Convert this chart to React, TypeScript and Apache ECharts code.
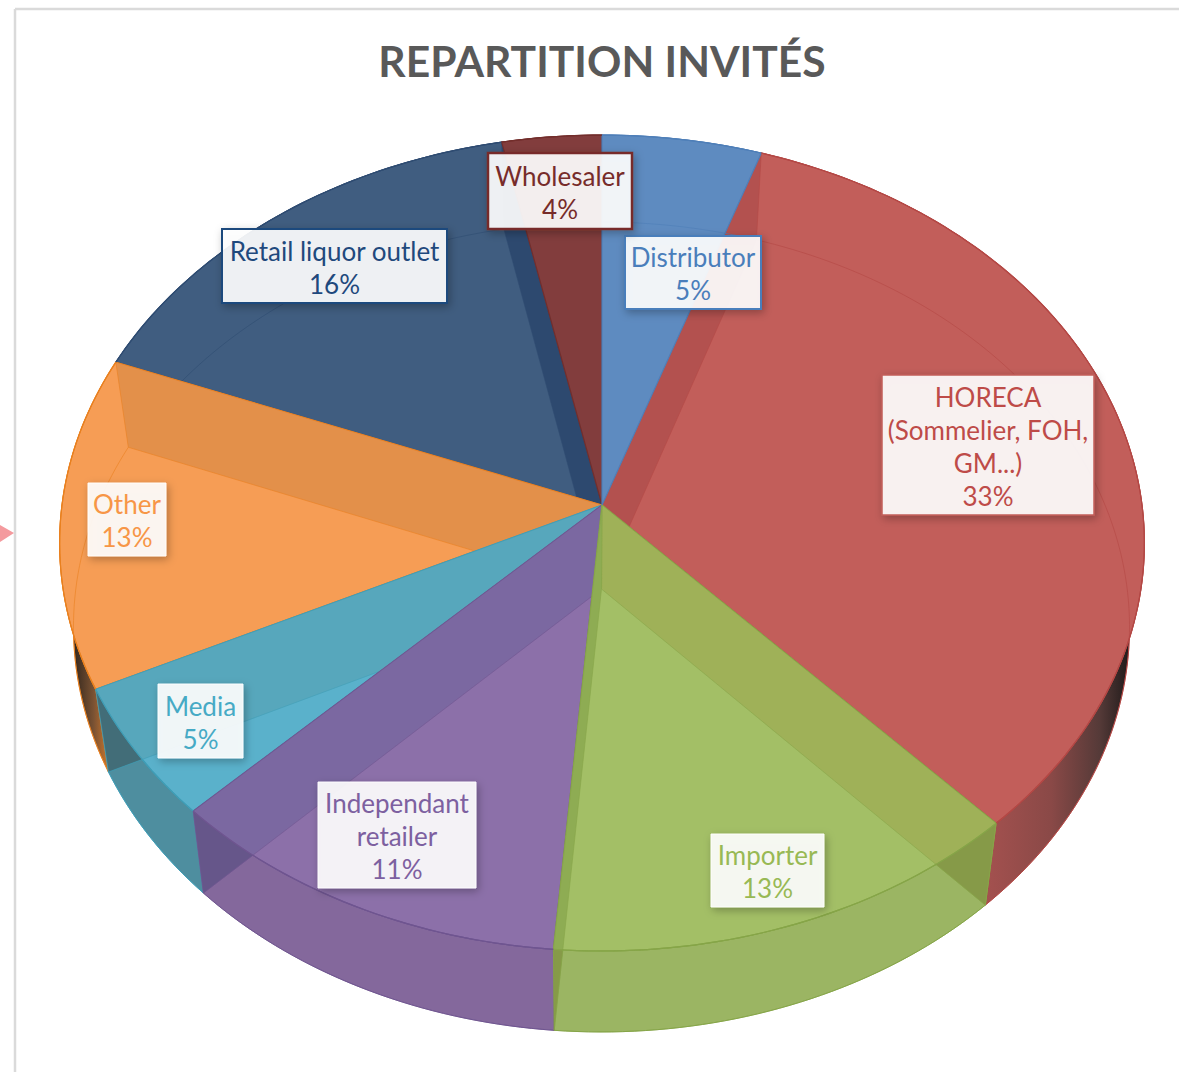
import React, { useEffect, useRef } from "react";
import * as echarts from "echarts";

const titleText = "REPARTITION INVITÉS";
const categories = [
  "Distributor",
  "HORECA\n(Sommelier, FOH,\nGM...)",
  "Importer",
  "Independant\nretailer",
  "Media",
  "Other",
  "Retail liquor outlet",
  "Wholesaler",
];
// Shown percentages (labels)
const shownPercents = [5, 33, 13, 11, 5, 13, 16, 4];
// Slice sizes as estimated from the drawn wedges
const sliceValues = [5.2, 32.9, 13.2, 11.2, 5.3, 13.15, 15.8, 3.25];

// Styles, one per category
const faceColors = ["#5E8BC0", "#C25E5A", "#A3BF66", "#8C70A9", "#5AB1CB", "#F69D55", "#405D80", "#823D3D"];
const edgeColors = ["#4F7FB8", "#B44845", "#86A548", "#6F5590", "#3F9DB6", "#E9801F", "#2F4C72", "#732E2C"];
const startBand = ["", "#B2504F", "#9FB057", "", "", "", "", ""];
const endBand = ["", "", "#8DAB52", "#7A67A0", "#57A6BB", "#E28F4A", "#2C486E", ""];
const outerBand = ["", "", "#869A48", "#66568A", "#426D78", "", "", ""];
const textColors = ["#4A7EBB", "#BE4B48", "#98B954", "#7D60A0", "#46AAC5", "#F79646", "#1F497D", "#772C2A"];
const borderColors = ["#4A7EBB", "#C25E5A", "", "", "", "", "#1F497D", "#772C2A"];
const paintRank = [8, 6, 7, 5, 4, 3, 1, 2];
const labelBoxes = [
  [625, 236, 761, 309],
  [882, 375, 1094, 515],
  [711, 834, 824, 907],
  [318, 782, 476, 888],
  [158, 684, 243, 758],
  [88, 483, 166, 556],
  [222, 229, 447, 303],
  [488, 153, 632, 229],
];
const labelBorders = [2, 1.5, 0, 0, 0, 0, 2, 2.5];

type Plane = { ax: number; ay: number; a: number; b: number; k: number };
const topPlane: Plane = { ax: 602, ay: 505, a: 404.4, b: 540, k: -0.0932 };
const basePlane: Plane = { ax: 601.5, ay: 589, a: 401.4, b: 525.7, k: -0.0938 };

const project = (p: Plane, phi: number): number[] => {
  const u = Math.sin(phi);
  const v = -Math.cos(phi);
  const d = 1 + p.k * v;
  return [p.ax + (p.b * u) / d, p.ay + (p.a * v) / d];
};
const arc = (p: Plane, from: number, to: number): number[][] => {
  const n = Math.max(2, Math.ceil(Math.abs(to - from) / 0.02));
  const out: number[][] = [];
  for (let i = 0; i <= n; i++) out.push(project(p, from + ((to - from) * i) / n));
  return out;
};
const insideTop = (x: number, y: number) =>
  ((x - 602) / 543) ** 2 + ((y - 543) / 408) ** 2 < 1;
const unproject = (p: Plane, x: number, y: number) => {
  const dx = x - p.ax;
  const dy = y - p.ay;
  const v = dy / (p.a - p.k * dy);
  const u = (dx * (1 + p.k * v)) / p.b;
  let phi = Math.atan2(u, -v);
  if (phi < 0) phi += Math.PI * 2;
  return phi;
};

const total = sliceValues.reduce((s, v) => s + v, 0);
const angleStart = (i: number) =>
  (sliceValues.slice(0, i).reduce((s, v) => s + v, 0) / total) * Math.PI * 2;

const wallFill = (i: number): any => {
  if (i === 1)
    return new echarts.graphic.LinearGradient(
      985, 0, 1132, 0,
      [
        { offset: 0, color: "#A4514F" },
        { offset: 0.45, color: "#8A4947" },
        { offset: 0.78, color: "#553A38" },
        { offset: 1, color: "#1C1818" },
      ],
      true
    );
  if (i === 5)
    return new echarts.graphic.LinearGradient(
      72, 0, 108, 0,
      [
        { offset: 0, color: "#2E241C" },
        { offset: 0.6, color: "#7A5233" },
        { offset: 1, color: "#C9742C" },
      ],
      true
    );
  return ["#4F7FB8", "#A4514F", "#9BB563", "#84689C", "#4E8E9F", "#A06A3A", "#334F70", "#6E3332"][i];
};

const renderSlice = (params: any, api: any) => {
  const i = params.dataIndex;
  const span = (api.value(0) / total) * Math.PI * 2;
  const s = angleStart(i);
  const e = s + span;
  const rank = paintRank[i] * 10;
  const children: any[] = [];

  // outer wall, under every top face
  const wallPts = [...arc(topPlane, s, e), ...arc(basePlane, e, s)];
  children.push({
    type: "polygon",
    z2: 1,
    shape: { points: wallPts },
    style: { fill: wallFill(i), stroke: edgeColors[i], lineWidth: 1 },
  });

  // top face
  children.push({
    type: "polygon",
    z2: rank,
    shape: { points: [[topPlane.ax, topPlane.ay], ...arc(topPlane, s, e)] },
    style: { fill: faceColors[i], stroke: edgeColors[i], lineWidth: 1.2 },
  });

  // radial walls seen through the top
  const bands: [number, string][] = [];
  if (startBand[i]) bands.push([s, startBand[i]]);
  if (endBand[i]) bands.push([e, endBand[i]]);
  bands.forEach(([phi, color], j) => {
    const T = project(topPlane, phi);
    const B = project(basePlane, phi);
    children.push({
      type: "polygon",
      z2: rank + 1 + j,
      shape: {
        points: [T, [topPlane.ax, topPlane.ay], [basePlane.ax, basePlane.ay], B],
      },
      style: { fill: color, stroke: edgeColors[i], lineWidth: 0.6, opacity: 0.95 },
    });
    if (outerBand[i] && !insideTop(B[0], B[1])) {
      let P = B;
      for (let t = 0; t <= 1; t += 0.002) {
        const x = B[0] + (basePlane.ax - B[0]) * t;
        const y = B[1] + (basePlane.ay - B[1]) * t;
        if (insideTop(x, y)) {
          P = [x, y];
          break;
        }
      }
      const phiP = unproject(topPlane, P[0], P[1]);
      children.push({
        type: "polygon",
        z2: rank + 4,
        shape: { points: [T, B, P, ...arc(topPlane, phiP, phi)] },
        style: { fill: outerBand[i], stroke: edgeColors[i], lineWidth: 0.6 },
      });
    }
  });

  // base rim seen through the top (later slices cover it)
  children.push({
    type: "polyline",
    z2: rank + 5,
    shape: { points: arc(basePlane, s, e) },
    style: { fill: "none", stroke: edgeColors[i], lineWidth: 1, opacity: 0.6 },
  });
  // top rim, always visible
  children.push({
    type: "polyline",
    z2: 96,
    shape: { points: arc(topPlane, s, e) },
    style: { fill: "none", stroke: edgeColors[i], lineWidth: 1.2 },
  });

  // label
  const [x0, y0, x1, y1] = labelBoxes[i];
  children.push({
    type: "rect",
    z2: 100,
    shape: { x: x0, y: y0, width: x1 - x0, height: y1 - y0 },
    style: {
      fill: "rgba(255,255,255,0.9)",
      stroke: labelBorders[i] ? borderColors[i] : "rgba(255,255,255,0.9)",
      lineWidth: labelBorders[i] || 1,
      shadowBlur: 8,
      shadowOffsetX: 2,
      shadowOffsetY: 3,
      shadowColor: "rgba(0,0,0,0.3)",
    },
  });
  children.push({
    type: "text",
    z2: 101,
    x: (x0 + x1) / 2,
    y: (y0 + y1) / 2 + 1,
    style: {
      text: `${categories[i]}\n${shownPercents[i]}%`,
      align: "center",
      verticalAlign: "middle",
      font: "400 26px Lato",
      lineHeight: 33,
      fill: textColors[i],
    },
  });
  return { type: "group", children };
};

export default function App() {
  const ref = useRef<HTMLDivElement>(null);
  useEffect(() => {
    const chart = echarts.init(ref.current!, undefined, { renderer: "svg" });
    chart.setOption({
      animation: false,
      backgroundColor: "#ffffff",
      title: {
        text: titleText,
        left: 597,
        top: 34,
        textAlign: "center",
        textStyle: { color: "#595959", fontFamily: "Lato", fontWeight: 700, fontSize: 42.6 },
      },
      graphic: [
        {
          type: "line",
          shape: { x1: 15, y1: 9, x2: 1179, y2: 9 },
          style: { stroke: "#DADADA", lineWidth: 2.5 },
        },
        {
          type: "line",
          shape: { x1: 15, y1: 9, x2: 15, y2: 1072 },
          style: { stroke: "#DADADA", lineWidth: 2.5 },
        },
        {
          type: "polygon",
          shape: { points: [[0, 525], [14, 533], [0, 542]] },
          style: { fill: "#F49A9E" },
        },
      ],
      series: [
        {
          type: "custom",
          coordinateSystem: "none",
          renderItem: renderSlice,
          data: sliceValues.map((v) => [v]),
          silent: true,
        },
      ],
    });
    return () => chart.dispose();
  }, []);
  return (
    <div
      ref={ref}
      style={{ position: "fixed", left: 0, top: 0, width: 1179, height: 1072, overflow: "hidden" }}
    />
  );
}
